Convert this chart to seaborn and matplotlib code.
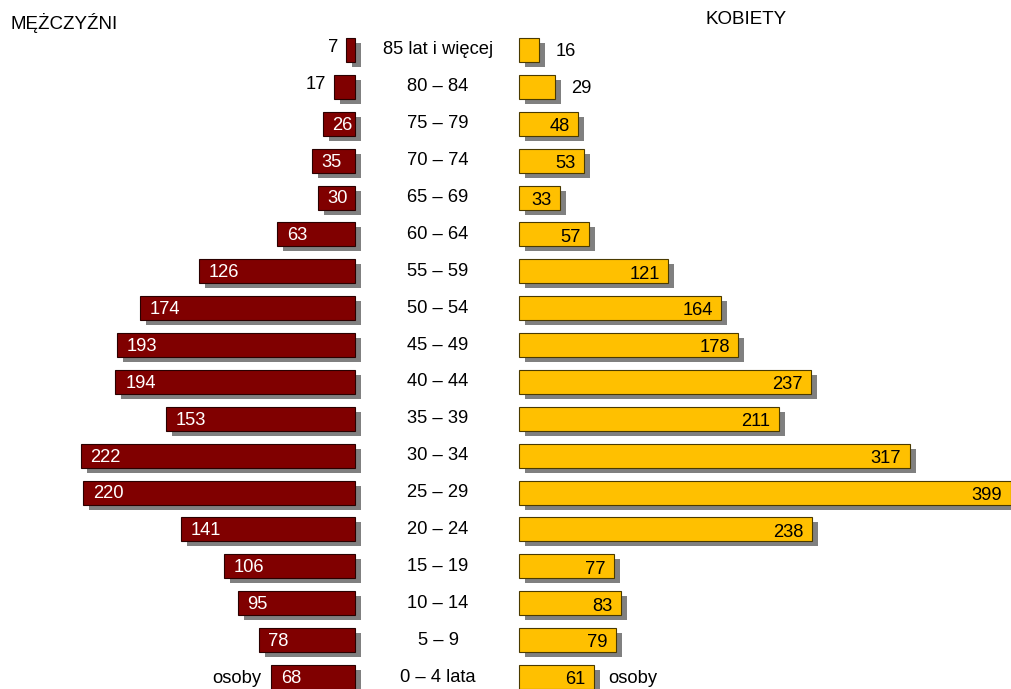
import numpy as np
import matplotlib
matplotlib.use("Agg")
import matplotlib.pyplot as plt
import matplotlib.patheffects as pe
import matplotlib.transforms as mtransforms
import seaborn as sns

sns.set_theme(style="white")
plt.rcParams['font.family'] = ['Liberation Sans', 'DejaVu Sans']
plt.rcParams['text.color'] = 'black'

# dane
grupy = ["85 lat i więcej", "80 – 84", "75 – 79", "70 – 74", "65 – 69", "60 – 64",
         "55 – 59", "50 – 54", "45 – 49", "40 – 44", "35 – 39", "30 – 34",
         "25 – 29", "20 – 24", "15 – 19", "10 – 14", "5 – 9", "0 – 4 lata"]
mezczyzni = [7, 17, 26, 35, 30, 63, 126, 174, 193, 194, 153, 222, 220, 141, 106, 95, 78, 68]
kobiety = [16, 29, 48, 53, 33, 57, 121, 164, 178, 237, 211, 317, 399, 238, 77, 83, 79, 61]

W, H = 1011, 689
fig = plt.figure(figsize=(W / 100, H / 100), dpi=100)

# geometria osi (w pikselach)
top_px, bot_px = 50 - 18.45, 677 + 18.45
b = 1 - bot_px / H
h = (bot_px - top_px) / H
ax_m = fig.add_axes([0, b, 355 / W, h])
ax_k = fig.add_axes([519 / W, b, 492 / W, h])

cien = [pe.SimplePatchShadow(offset=(4.3, -3.6), shadow_rgbFace='#808080', alpha=1.0), pe.Normal()]

sns.barplot(x=mezczyzni, y=grupy, orient='h', color='#800000', saturation=1,
            width=0.65, edgecolor='#2a0000', linewidth=0.8, ax=ax_m)
sns.barplot(x=kobiety, y=grupy, orient='h', color='#FFC000', saturation=1,
            width=0.65, edgecolor='#4a3a00', linewidth=0.8, ax=ax_k)

for ax in (ax_m, ax_k):
    for p in ax.patches:
        p.set_path_effects(cien)
        p.set_clip_on(False)
    ax.set_ylim(len(grupy) - 0.5, -0.5)
    ax.axis('off')

ax_m.set_xlim(355 / 1.235, 0)
ax_k.set_xlim(0, 492 / 1.232)

fs = 13.2
for i, v in enumerate(mezczyzni):
    if v < 20:
        ax_m.annotate(str(v), (v, i), xytext=(-6, 2), textcoords='offset points',
                      ha='right', va='center', fontsize=fs, color='black')
    else:
        ax_m.annotate(str(v), (v, i), xytext=(7, -1), textcoords='offset points',
                      ha='left', va='center', fontsize=fs, color='white')
for i, v in enumerate(kobiety):
    if v < 30:
        ax_k.annotate(str(v), (v, i), xytext=(12, -1), textcoords='offset points',
                      ha='left', va='center', fontsize=fs, color='black')
    else:
        ax_k.annotate(str(v), (v, i), xytext=(-6, -2), textcoords='offset points',
                      ha='right', va='center', fontsize=fs, color='black')

# "osoby" przy najmłodszej grupie
n = len(grupy) - 1
ax_m.annotate("osoby", (mezczyzni[n], n), xytext=(-7, -1), textcoords='offset points',
              ha='right', va='center', fontsize=fs, color='black')
ax_k.annotate("osoby", (kobiety[n], n), xytext=(10, -1), textcoords='offset points',
              ha='left', va='center', fontsize=fs, color='black')

# etykiety grup wieku
tr = mtransforms.blended_transform_factory(fig.transFigure, ax_k.transData)
for i, g in enumerate(grupy):
    fig.text(438 / W, i, g, transform=tr, ha='center', va='center', fontsize=fs, color='black')

fig.text(10 / W, 1 - 23 / H, "MĘŻCZYŹNI", ha='left', va='center', fontsize=13.5, color='black')
fig.text(746 / W, 1 - 20 / H, "KOBIETY", ha='center', va='center', fontsize=13.5, color='black')

fig.savefig("out.png", dpi=100)
